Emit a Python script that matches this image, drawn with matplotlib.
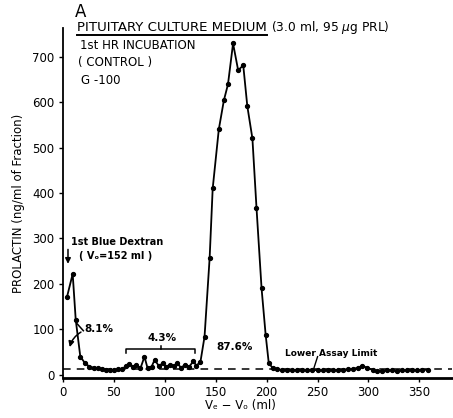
import matplotlib
matplotlib.use("Agg")
import matplotlib.pyplot as plt
from matplotlib.lines import Line2D

# ---- data ----
ve_v0 = [4, 9.5, 12.5, 17, 21.5, 26, 30, 34, 38, 42, 46, 50, 54, 58,
         62, 65, 69, 72, 76, 80, 83, 87, 90, 94, 98, 101, 105, 109, 112, 116,
         120, 124, 128, 131, 135, 139, 144, 147, 153, 158, 162, 167, 172, 177,
         181, 186, 190, 195, 199, 202, 206, 210, 215, 220, 225, 230, 235, 240,
         245, 250, 255, 260, 265, 270, 275, 280, 285, 290, 294, 299, 304, 308,
         313, 318, 323, 328, 333, 338, 343, 348, 353, 358]
prolactin = [172, 222, 121, 40, 26, 18, 16, 14, 12, 11, 11, 11, 12, 12,
             20, 24, 18, 22, 14, 40, 15, 18, 33, 20, 25, 18, 22, 20, 25, 16,
             22, 18, 30, 20, 29, 84, 257, 410, 540, 604, 639, 729, 670, 681,
             591, 520, 368, 190, 88, 27, 14, 12, 11, 11, 10, 11, 10, 10,
             11, 10, 10, 11, 10, 11, 10, 12, 13, 16, 20, 15, 11, 8,
             9, 10, 10, 9, 10, 10, 11, 10, 11, 11]
lower_assay_limit = 13
x_ticks = [0, 50, 100, 150, 200, 250, 300, 350]
y_ticks = [0, 100, 200, 300, 400, 500, 600, 700]

W, H = 453, 418
fig = plt.figure(figsize=(W / 100, H / 100), dpi=100)
ax = fig.add_axes([63 / W, 1 - 378 / H, (452 - 63) / W, (378 - 28) / H])

ax.plot(ve_v0, prolactin, color="black", lw=1.3, marker="o", ms=2.8,
        mfc="black", mec="black")
ax.axhline(lower_assay_limit, color="black", lw=1.1, ls=(0, (5, 4)))

ax.set_xlim(0, 382)
ax.set_ylim(-7, 763)
ax.set_xticks(x_ticks)
ax.set_yticks(y_ticks)
ax.tick_params(labelsize=8.5, length=3, width=1, direction="out", pad=3)
for s in ["top", "right"]:
    ax.spines[s].set_visible(False)
ax.spines["left"].set_linewidth(1.3)
ax.spines["bottom"].set_linewidth(2.0)

ax.set_xlabel("V\u2091 \u2212 V\u2092 (ml)", fontsize=8.5, va="center")
ax.xaxis.set_label_coords((240 - 63) / (452 - 63), (378 - 406) / 350)
ax.set_ylabel("PROLACTIN (ng/ml of Fraction)", fontsize=8.5, labelpad=5)

kw = dict(fontsize=8.5, color="black", clip_on=False)
ax.text(11.5, 798, "A", fontsize=12, va="center", ha="left", clip_on=False)
t1 = ax.text(13.7, 765, "PITUITARY CULTURE MEDIUM", va="center", ha="left",
             fontsize=9.6, clip_on=False)
ax.text(16.7, 725, "1st HR INCUBATION", va="center", ha="left", **kw)
ax.text(14.7, 688, "( CONTROL )", va="center", ha="left", **kw)
ax.text(17.6, 648, "G -100", va="center", ha="left", **kw)

fig.canvas.draw()
r = fig.canvas.get_renderer()
bb = t1.get_window_extent(r)
fig.add_artist(Line2D([bb.x0 / W, bb.x1 / W], [(bb.y0 - 1) / H, (bb.y0 - 1) / H],
                      color="black", lw=1.4))
fig.text((bb.x1 + 4) / W, (bb.y0 + bb.y1) / 2 / H, "(3.0 ml, 95 $\\mu$g PRL)",
         fontsize=8.8, va="center", ha="left")

ax.text(7.8, 292, "1st Blue Dextran", va="center", ha="left", fontsize=7,
        fontweight="bold")
ax.text(15.7, 262, "( V\u2092=152 ml )", va="center", ha="left", fontsize=7,
        fontweight="bold")
ax.annotate("", xy=(4.9, 238), xytext=(4.9, 282),
            arrowprops=dict(arrowstyle="-|>", color="black", lw=1.1,
                            mutation_scale=8))

ax.text(21, 100, "8.1%", va="center", ha="left", fontsize=7.5, fontweight="bold")
ax.annotate("", xy=(6, 55), xytext=(20, 97),
            arrowprops=dict(arrowstyle="-|>", color="black", lw=1.1,
                            mutation_scale=8, connectionstyle="arc3,rad=0.25"))
ax.plot([14, 20], [112, 97], color="black", lw=1.1)

ax.text(97, 80, "4.3%", va="center", ha="center", fontsize=7.5, fontweight="bold")
ax.plot([62, 62, 130, 130], [48, 57, 57, 48], color="black", lw=1.1)
ax.plot([96, 96], [57, 64], color="black", lw=1.1)

ax.text(168.6, 62, "87.6%", va="center", ha="center", fontsize=7.5,
        fontweight="bold")

ax.text(217.6, 48, "Lower Assay Limit", va="center", ha="left", fontsize=6.5,
        fontweight="bold")
ax.plot([250, 246], [40, 12], color="black", lw=1.0)

fig.savefig("out.png", dpi=100)
